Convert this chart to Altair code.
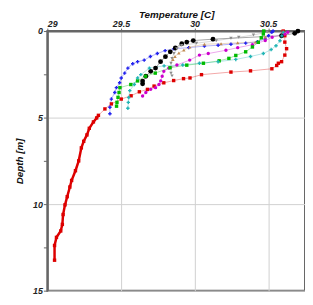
import altair as alt
import pandas as pd

# Profiles: temperature [C] and depth [m]
red_T = [30.602, 30.613, 30.613, 30.625, 30.613, 30.591, 30.569, 30.558, 30.525, 30.38, 30.247, 30.047,
         29.969, 29.925, 29.858, 29.791, 29.725, 29.68, 29.625, 29.569, 29.502, 29.435, 29.391, 29.347,
         29.335, 29.313, 29.285, 29.269, 29.247, 29.231, 29.213, 29.191, 29.165, 29.153, 29.135, 29.12,
         29.107, 29.102, 29.091, 29.062, 29.049, 29.049]
red_D = [0.0, 0.27, 0.64, 1.02, 1.39, 1.77, 1.86, 1.99, 2.18, 2.30, 2.37, 2.52,
         2.71, 2.75, 2.86, 2.99, 3.18, 3.37, 3.51, 3.74, 3.93, 4.21, 4.50, 4.87,
         5.02, 5.25, 5.62, 6.00, 6.37, 6.75, 7.50, 8.07, 8.63, 9.01, 9.57, 10.04,
         10.60, 11.17, 11.55, 11.92, 12.39, 13.24]

blue_T = [30.533, 30.525, 30.502, 30.48, 30.427, 30.347, 30.247, 30.16, 30.067, 29.96, 29.86, 29.80,
          29.747, 29.70, 29.658, 29.613, 29.58, 29.547, 29.525, 29.502, 29.491, 29.469, 29.458, 29.435,
          29.425, 29.425]
blue_D = [0.0, 0.07, 0.27, 0.45, 0.62, 0.70, 0.76, 0.82, 0.87, 0.96, 1.02, 1.13,
          1.30, 1.47, 1.68, 1.77, 1.89, 2.14, 2.43, 2.71, 2.99, 3.27, 3.55, 3.93,
          4.40, 4.78]

black_T = [30.702, 30.68, 30.591, 30.125, 29.991, 29.947, 29.913, 29.869, 29.835, 29.802, 29.769,
           29.735, 29.702, 29.669, 29.647, 29.647]
black_D = [0.0, 0.13, 0.27, 0.47, 0.55, 0.64, 0.73, 0.98, 1.20, 1.48, 1.77,
           2.14, 2.33, 2.61, 2.89, 3.05]

gray_T = [30.493, 30.40, 30.30, 30.247, 30.147, 30.013, 29.913, 29.88, 29.86, 29.847, 29.84, 29.84,
          29.84, 29.847]
gray_D = [0.06, 0.23, 0.36, 0.42, 0.56, 0.70, 0.83, 1.02, 1.30, 1.58, 1.86, 2.14,
          2.43, 2.59]

tan_T = [30.48, 30.413, 30.293, 30.18, 30.067, 29.967, 29.927, 29.893, 29.867, 29.853]
tan_D = [0.34, 0.64, 0.68, 0.73, 0.76, 0.93, 1.10, 1.27, 1.47, 1.64]

magenta_T = [30.633, 30.613, 30.527, 30.48, 30.393, 30.293, 30.213, 30.093, 30.033, 29.967, 29.88,
             29.825, 29.791, 29.78, 29.77, 29.758, 29.735, 29.702, 29.669, 29.647]
magenta_D = [0.07, 0.17, 0.36, 0.55, 0.79, 0.96, 1.11, 1.30, 1.39, 1.68, 1.96,
             2.14, 2.33, 2.61, 2.88, 3.09, 3.27, 3.37, 3.55, 3.75]

green_T = [30.47, 30.467, 30.453, 30.433, 30.393, 30.347, 30.28, 30.233, 30.167, 30.06, 29.947,
           29.833, 29.733, 29.667, 29.613, 29.567, 29.493, 29.487, 29.48, 29.473, 29.47]
green_D = [0.0, 0.17, 0.39, 0.65, 0.92, 1.20, 1.41, 1.58, 1.72, 1.86, 1.97,
           2.12, 2.43, 2.61, 2.88, 3.09, 3.27, 3.55, 3.83, 4.12, 4.34]

cyan_T = [30.602, 30.593, 30.58, 30.553, 30.52, 30.467, 30.38, 30.28, 30.16, 30.033, 29.92,
          29.793, 29.693, 29.635, 29.613, 29.591, 29.56, 29.553, 29.55, 29.547]
cyan_D = [0.06, 0.28, 0.56, 0.85, 1.07, 1.30, 1.47, 1.64, 1.77, 1.86, 1.96,
          2.01, 2.14, 2.52, 2.71, 3.09, 3.44, 3.84, 4.12, 4.46]

profiles = ["red", "blue", "black", "gray", "tan", "magenta", "green", "cyan"]
colors = ["#dd0000", "#2222ee", "#000000", "#8c8c8c", "#c08a50", "#cc00cc", "#00bb00", "#22b5b5"]
shapes = ["square", "cross", "circle", "triangle-down", "triangle-up", "circle", "square", "cross"]

series = {
    "red": (red_T, red_D), "blue": (blue_T, blue_D), "black": (black_T, black_D),
    "gray": (gray_T, gray_D), "tan": (tan_T, tan_D), "magenta": (magenta_T, magenta_D),
    "green": (green_T, green_D), "cyan": (cyan_T, cyan_D),
}
rows = []
for name in profiles:
    T, D = series[name]
    for i, (t, d) in enumerate(zip(T, D)):
        rows.append({"profile": name, "T": t, "D": d, "order": i})
df = pd.DataFrame(rows)

font = "Liberation Sans"
xs = alt.X("T:Q", scale=alt.Scale(domain=[29, 30.75], nice=False, zero=False),
           axis=alt.Axis(orient="top", title="Temperature [C]", format="~g",
                         values=[29, 29.25, 29.5, 29.75, 30, 30.25, 30.5, 30.75],
                         labelExpr="datum.value % 0.5 == 0 ? datum.label : ''",
                         gridOpacity={"condition": {"test": "datum.value % 0.5 != 0", "value": 0}, "value": 1},
                         labelFont=font, labelFontWeight="bold", labelFontStyle="italic", labelFontSize=9,
                         titleFont=font, titleFontWeight="bold", titleFontStyle="italic", titleFontSize=10,
                         labelColor="#222", titleColor="#111", tickSize=3, labelPadding=0, titlePadding=0,
                         domainColor="#666", domainWidth=2, tickColor="#666", gridColor="#d0d0d0"))
ys = alt.Y("D:Q", scale=alt.Scale(domain=[0, 15], reverse=True, nice=False),
           axis=alt.Axis(title="Depth [m]", values=[0, 2.5, 5, 7.5, 10, 12.5, 15], format="~g",
                         labelExpr="datum.value % 5 == 0 ? datum.label : ''",
                         gridOpacity={"condition": {"test": "datum.value % 5 != 0", "value": 0}, "value": 1},
                         labelFont=font, labelFontWeight="bold", labelFontStyle="italic", labelFontSize=9,
                         titleFont=font, titleFontWeight="bold", titleFontStyle="italic", titleFontSize=10,
                         labelColor="#222", titleColor="#111", tickSize=4, labelPadding=1, titlePadding=8,
                         domainColor="#666", domainWidth=2, tickColor="#666", gridColor="#d0d0d0"))
cscale = alt.Scale(domain=profiles, range=colors)

lines = alt.Chart(df).mark_line(strokeWidth=1, opacity=0.35).encode(
    x=xs, y=ys, order="order:Q",
    color=alt.Color("profile:N", scale=cscale, legend=None),
    detail="profile:N")

deep = alt.Chart(df).transform_filter("datum.profile == 'red' && datum.D >= 4.8").mark_line(
    strokeWidth=2.5, color="#dd0000").encode(x="T:Q", y="D:Q", order="order:Q")

pts = alt.Chart(df).mark_point(filled=True, size=12, opacity=1).encode(
    x="T:Q", y="D:Q",
    color=alt.Color("profile:N", scale=cscale, legend=None),
    shape=alt.Shape("profile:N", scale=alt.Scale(domain=profiles, range=shapes), legend=None),
    size=alt.condition("datum.profile == 'black'", alt.value(24), alt.value(12)))

chart = alt.layer(lines, deep, pts).properties(
    width=262, height=264,
    autosize=alt.AutoSizeParams(type="none"),
    padding={"left": 40, "top": 21, "right": 0, "bottom": 4},
).configure_view(stroke="#666", strokeWidth=2)

chart.save("out.html", embed_options={"renderer": "svg", "actions": False})
